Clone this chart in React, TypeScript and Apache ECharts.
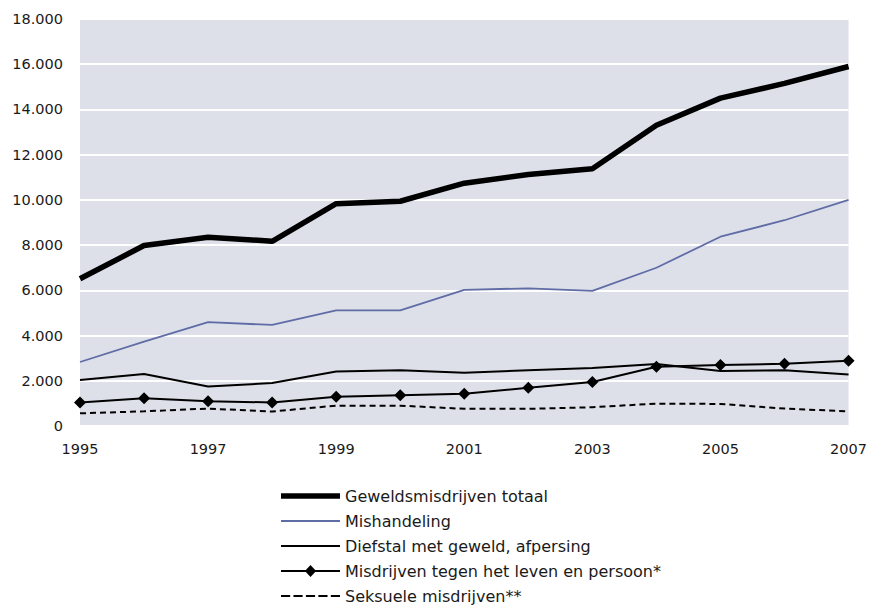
import React, { useEffect, useRef } from "react";
import * as echarts from "echarts";

const years = ["1995","1996","1997","1998","1999","2000","2001","2002","2003","2004","2005","2006","2007"];
const totaal = [6510, 7980, 8350, 8170, 9830, 9940, 10740, 11120, 11380, 13300, 14500, 15150, 15900];
const mishandeling = [2830, 3730, 4590, 4470, 5110, 5110, 6020, 6090, 5980, 7000, 8370, 9100, 10000];
const diefstal = [2030, 2300, 1750, 1900, 2410, 2470, 2350, 2470, 2560, 2740, 2430, 2470, 2280];
const leven = [1040, 1230, 1100, 1040, 1290, 1360, 1430, 1690, 1950, 2620, 2700, 2750, 2890];
const seksueel = [560, 650, 770, 640, 900, 900, 760, 760, 830, 990, 975, 770, 650];
const seriesNames = [
  "Geweldsmisdrijven totaal",
  "Mishandeling",
  "Diefstal met geweld, afpersing",
  "Misdrijven tegen het leven en persoon*",
  "Seksuele misdrijven**",
];

const FONT = "'DejaVu Sans', Verdana, sans-serif";

const legendIcons = [
  "path://M0,0h58v5.5h-58z",
  "path://M0,0h58v2h-58z",
  "path://M0,0h58v2h-58z",
  "path://M0,5h58v2h-58z M29,0 L34.5,6 L29,12 L23.5,6z",
  "path://M0,0h9v2h-9z M12.25,0h9v2h-9z M24.5,0h9v2h-9z M36.75,0h9v2h-9z M49,0h9v2h-9z",
];

export default function App() {
  const ref = useRef<HTMLDivElement>(null);
  useEffect(() => {
    if (!ref.current) return;
    const chart = echarts.init(ref.current, null, { renderer: "svg" });
    chart.setOption({
      animation: false,
      backgroundColor: "#ffffff",
      textStyle: { fontFamily: FONT },
      grid: {
        left: 80,
        right: 18,
        top: 19,
        bottom: 179,
        show: true,
        backgroundColor: "#dde0e9",
        borderWidth: 0,
      },
      xAxis: {
        type: "category",
        data: years,
        boundaryGap: false,
        axisLine: { show: false },
        axisTick: { show: false },
        splitLine: { show: false },
        axisLabel: {
          interval: 1,
          color: "#1a1a1a",
          fontSize: 14.5,
          fontFamily: FONT,
          margin: 15,
        },
      },
      yAxis: {
        type: "value",
        min: 0,
        max: 18000,
        interval: 2000,
        axisLine: { show: false },
        axisTick: { show: false },
        splitLine: { show: true, lineStyle: { color: "#ffffff", width: 2 } },
        axisLabel: {
          color: "#1a1a1a",
          fontSize: 14.5,
          fontFamily: FONT,
          margin: 17,
          formatter: (v: number) =>
            v === 0 ? "0" : String(v).replace(/\B(?=(\d{3})+(?!\d))/g, "."),
        },
      },
      legend: {
        orient: "vertical",
        left: 281,
        top: 488,
        height: 140,
        padding: 0,
        itemWidth: 59,
        itemHeight: 14,
        itemGap: 9,
        symbolKeepAspect: true,
        itemStyle: { borderWidth: 0 },
        textStyle: { fontSize: 16, color: "#1a1a1a", fontFamily: FONT, lineHeight: 16 },
        data: seriesNames.map((name, i) => ({ name, icon: legendIcons[i] })),
      },
      series: [
        {
          name: seriesNames[0],
          type: "line",
          data: totaal,
          symbol: "none",
          lineStyle: { color: "#000000", width: 5.5 },
          itemStyle: { color: "#000000" },
        },
        {
          name: seriesNames[1],
          type: "line",
          data: mishandeling,
          symbol: "none",
          lineStyle: { color: "#5f6ca6", width: 1.8 },
          itemStyle: { color: "#5f6ca6" },
        },
        {
          name: seriesNames[2],
          type: "line",
          data: diefstal,
          symbol: "none",
          lineStyle: { color: "#000000", width: 2 },
          itemStyle: { color: "#000000" },
        },
        {
          name: seriesNames[3],
          type: "line",
          data: leven,
          symbol: "diamond",
          symbolSize: 12,
          lineStyle: { color: "#000000", width: 2 },
          itemStyle: { color: "#000000" },
        },
        {
          name: seriesNames[4],
          type: "line",
          data: seksueel,
          symbol: "none",
          lineStyle: { color: "#000000", width: 2, type: [6, 4] },
          itemStyle: { color: "#000000" },
        },
      ],
    });
    return () => chart.dispose();
  }, []);
  return (
    <div
      ref={ref}
      style={{ width: 870, height: 605, position: "fixed", left: 0, top: 0 }}
    />
  );
}
